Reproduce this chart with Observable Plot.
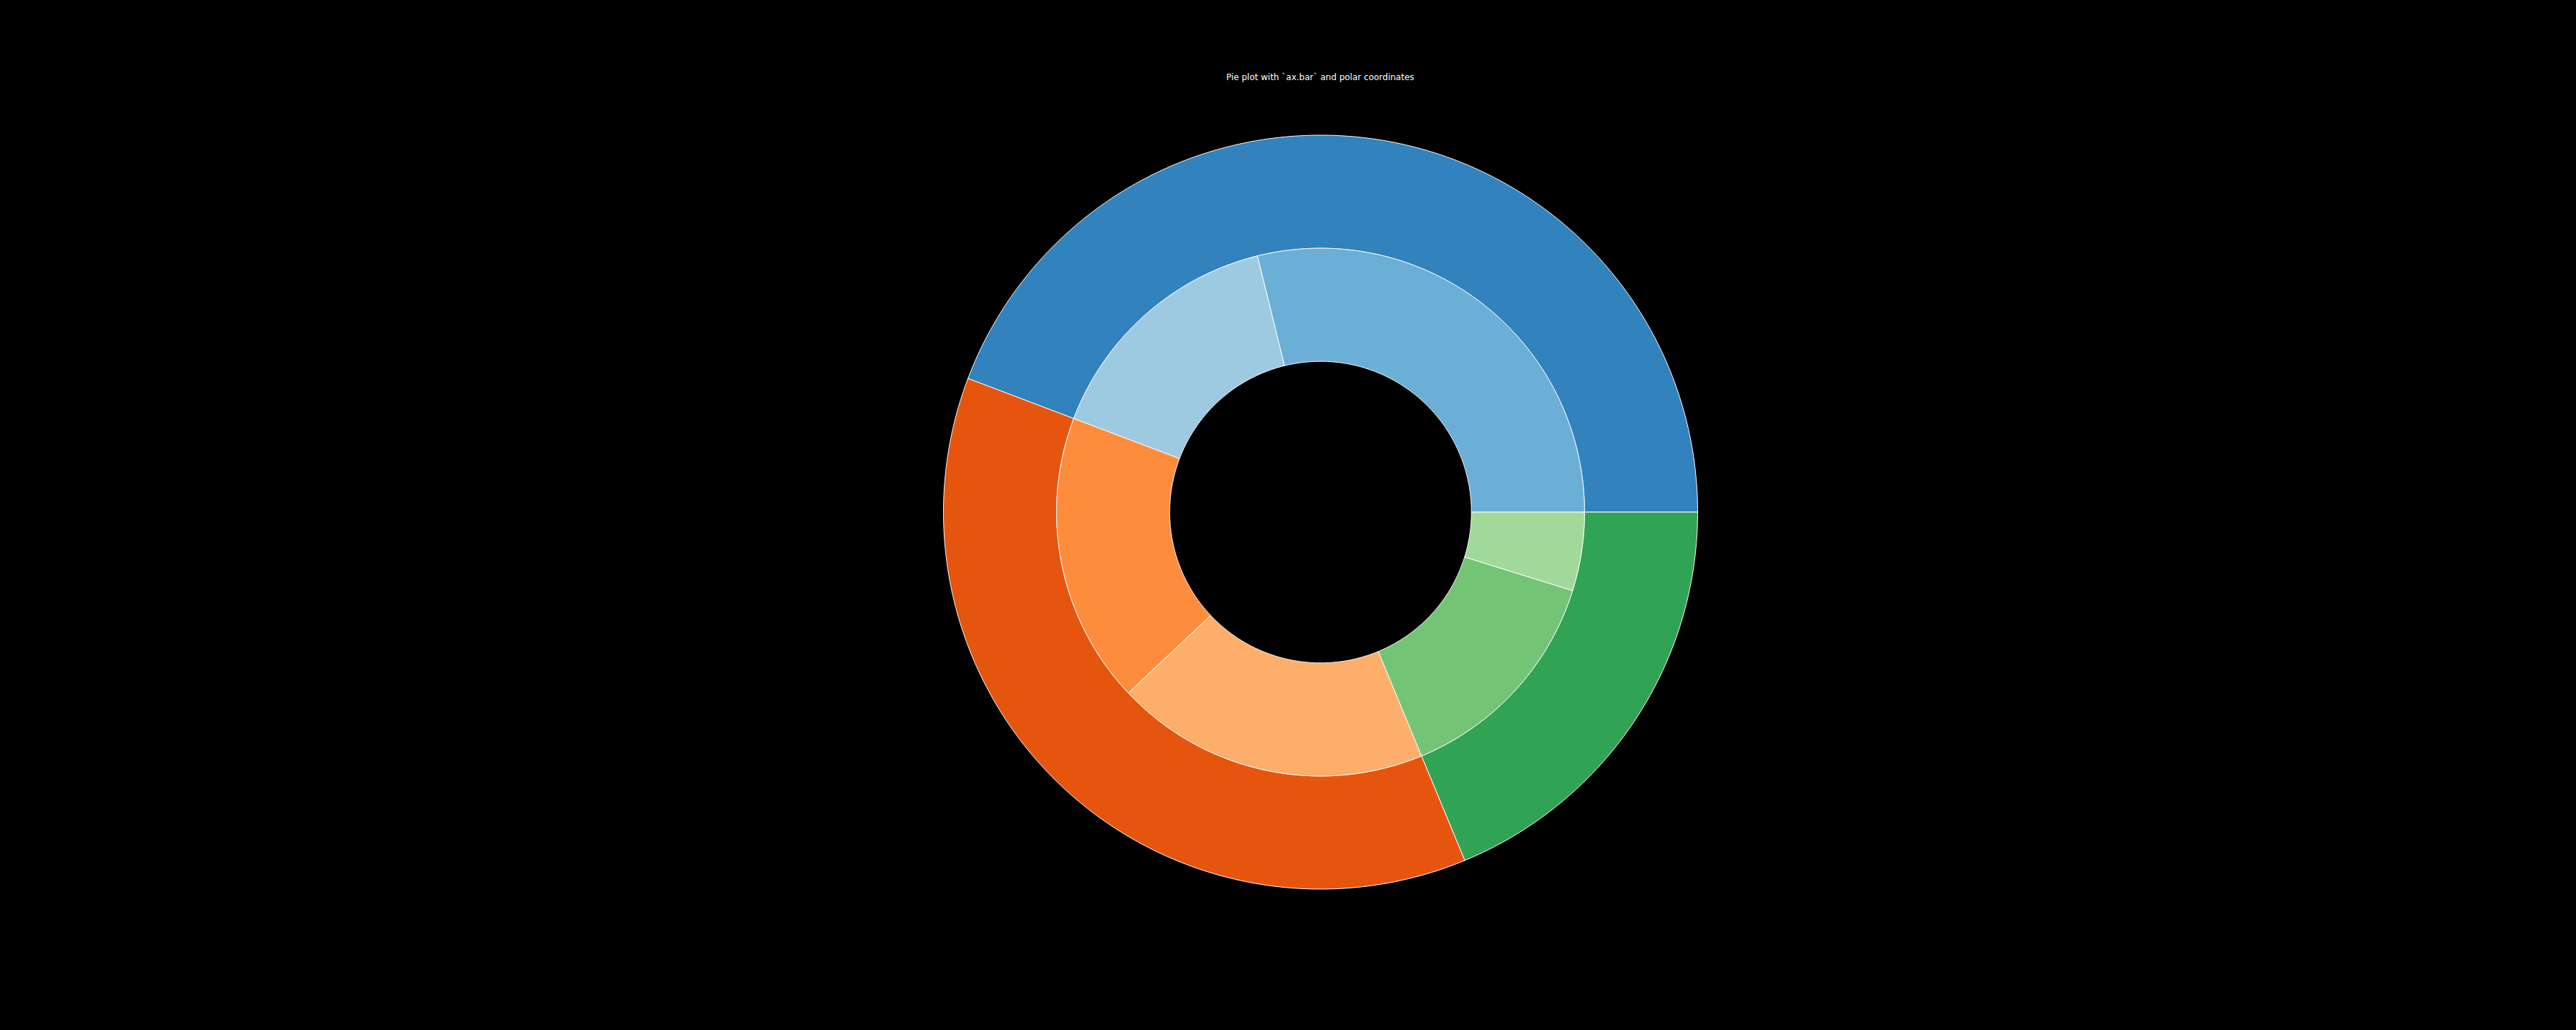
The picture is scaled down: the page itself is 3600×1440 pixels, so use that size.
<!DOCTYPE html>
<html>
<head>
<meta charset="utf-8">
<script src="https://cdn.jsdelivr.net/npm/d3@7"></script>
<script src="https://cdn.jsdelivr.net/npm/@observablehq/plot@0.6"></script>
<style>
  html, body { margin: 0; padding: 0; background: #000; }
  #wrap { position: relative; width: 3600px; height: 1440px; background: #000; }
  #title { position: absolute; top: 101px; left: 1845px; transform: translateX(-50%);
           font-family: "DejaVu Sans", sans-serif; font-size: 12px; line-height: 14px;
           color: #fff; white-space: nowrap; }
  svg { display: block; }
</style>
</head>
<body>
<div id="wrap">
  <div id="title">Pie plot with `ax.bar` and polar coordinates</div>
</div>
<script>
// Nested pie values: each group has two sub-values
const groups = ["A", "B", "C"];
const valsFirst = [60, 37, 29];
const valsSecond = [32, 40, 10];
const outerColors = ["#3182bd", "#e6550d", "#31a354"];
const innerColors = ["#6baed6", "#9ecae1", "#fd8d3c", "#fdae6b", "#74c476", "#a1d99b"];
const ringSize = 0.3;

const outerValues = groups.map((g, i) => valsFirst[i] + valsSecond[i]);
const innerValues = groups.flatMap((g, i) => [valsFirst[i], valsSecond[i]]);
const total = d3.sum(outerValues);

function wedges(values, colors, r0, r1, prefix) {
  let acc = 0;
  return values.map((v, i) => {
    const a0 = acc / total * 2 * Math.PI;
    acc += v;
    const a1 = acc / total * 2 * Math.PI;
    return {id: prefix + i, a0, a1, r0, r1, color: colors[i]};
  });
}

function polygon(w) {
  const pts = [];
  const n = Math.max(8, Math.ceil((w.a1 - w.a0) / (2 * Math.PI) * 720));
  for (let k = 0; k <= n; k++) {
    const a = w.a0 + (w.a1 - w.a0) * k / n;
    pts.push({x: w.r1 * Math.cos(a), y: w.r1 * Math.sin(a)});
  }
  for (let k = n; k >= 0; k--) {
    const a = w.a0 + (w.a1 - w.a0) * k / n;
    pts.push({x: w.r0 * Math.cos(a), y: w.r0 * Math.sin(a)});
  }
  pts.push(pts[0]);
  return pts;
}

const allWedges = [
  ...wedges(outerValues, outerColors, 1 - ringSize, 1, "o"),
  ...wedges(innerValues, innerColors, 1 - 2 * ringSize, 1 - ringSize, "i")
];

const marks = allWedges.map(w =>
  Plot.line(polygon(w), {x: "x", y: "y", fill: w.color, stroke: "#ffffff", strokeWidth: 1, strokeLinejoin: "miter", curve: "linear"})
);

const cx = 1845, cy = 715.5, R = 527;
const chart = Plot.plot({
  width: 3600,
  height: 1440,
  marginLeft: cx - R,
  marginRight: 3600 - (cx + R),
  marginTop: cy - R,
  marginBottom: 1440 - (cy + R),
  x: {domain: [-1, 1], axis: null},
  y: {domain: [-1, 1], axis: null},
  style: {background: "#000", color: "#fff"},
  marks
});
document.getElementById("wrap").appendChild(chart);
</script>
</body>
</html>
